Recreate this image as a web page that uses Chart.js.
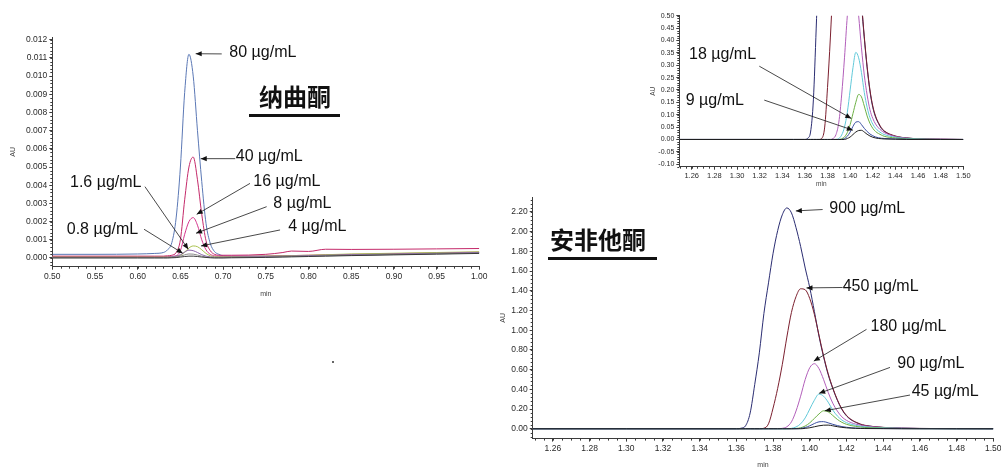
<!DOCTYPE html>
<html>
<head>
<meta charset="utf-8">
<script src="https://cdn.jsdelivr.net/npm/chart.js@4.4.1/dist/chart.umd.min.js"></script>
<style>
  html, body { margin: 0; padding: 0; background: #fff; }
  body { width: 1001px; height: 467px; position: relative; overflow: hidden; }
  canvas { position: absolute; }
  .title { position: absolute; font-family: "Noto Sans CJK SC", sans-serif; font-weight: 700; font-size: 24px; line-height: 24px; color: #111; text-align: center; }
  .rule { position: absolute; height: 3px; background: #111; }
  .dot { position: absolute; width: 2px; height: 2px; border-radius: 1px; background: #333; }
</style>
</head>
<body>
<canvas id="nalChart" width="490" height="300" style="left:0;top:0"></canvas>
<canvas id="amfZoomChart" width="340" height="195" style="left:640px;top:0"></canvas>
<canvas id="amfChart" width="515" height="280" style="left:490px;top:190px"></canvas>

<div class="title" style="left:245px;top:84px;width:100px">纳曲酮</div>
<div class="rule" style="left:249px;top:114px;width:91px"></div>
<div class="title" style="left:546px;top:227px;width:104px">安非他酮</div>
<div class="rule" style="left:548px;top:257px;width:109px"></div>
<div class="dot" style="left:332px;top:361px"></div>

<script>
// naltrexone run: retention time (min) and absorbance in mAU
const nalTime = [0.50, 0.55, 0.60, 0.62, 0.63, 0.635, 0.64, 0.645, 0.65, 0.655, 0.66, 0.665, 0.67, 0.675, 0.68,
    0.685, 0.69, 0.695, 0.70, 0.71, 0.75, 0.77, 0.78, 0.80, 0.82, 0.85, 0.90, 0.95, 1.00];
const nal80 = [0.20, 0.20, 0.22, 0.25, 0.30, 0.45, 0.85, 2.2, 5.0, 9.1, 11.2, 10.0, 7.0, 4.2, 1.9,
    0.8, 0.35, 0.2, 0.12, 0.1, 0.1, 0.1, 0.1, 0.12, 0.14, 0.16, 0.2, 0.25, 0.3];
const nal40 = [0.1, 0.1, 0.1, 0.1, 0.1, 0.12, 0.15, 0.3, 1.0, 3.2, 5.0, 5.55, 4.3, 2.4, 0.95,
    0.4, 0.2, 0.15, 0.15, 0.15, 0.2, 0.3, 0.38, 0.36, 0.48, 0.47, 0.48, 0.5, 0.52];
const nal16 = [0.08, 0.08, 0.08, 0.08, 0.08, 0.08, 0.09, 0.12, 0.4, 1.3, 2.0, 2.22, 1.8, 1.0, 0.45,
    0.2, 0.12, 0.1, 0.1, 0.1, 0.1, 0.12, 0.13, 0.15, 0.17, 0.2, 0.24, 0.28, 0.32];
const nal8 = [0.05, 0.05, 0.05, 0.05, 0.05, 0.05, 0.06, 0.08, 0.14, 0.32, 0.55, 0.66, 0.62, 0.45, 0.25,
    0.12, 0.07, 0.06, 0.06, 0.07, 0.1, 0.12, 0.13, 0.15, 0.18, 0.22, 0.26, 0.3, 0.34];
const nal4 = [0.03, 0.03, 0.03, 0.03, 0.03, 0.04, 0.06, 0.1, 0.18, 0.32, 0.43, 0.4, 0.3, 0.18, 0.1,
    0.06, 0.04, 0.04, 0.04, 0.05, 0.08, 0.1, 0.11, 0.13, 0.15, 0.18, 0.22, 0.26, 0.3];
const nal1p6 = [0.02, 0.02, 0.02, 0.02, 0.02, 0.02, 0.03, 0.05, 0.1, 0.17, 0.22, 0.21, 0.16, 0.1, 0.05,
    0.03, 0.02, 0.02, 0.02, 0.03, 0.05, 0.07, 0.08, 0.1, 0.12, 0.15, 0.19, 0.23, 0.27];
const nal0p8 = [0.0, 0.0, 0.0, 0.0, 0.0, 0.0, 0.01, 0.02, 0.05, 0.08, 0.1, 0.1, 0.08, 0.05, 0.03,
    0.01, 0.0, 0.0, 0.0, 0.01, 0.03, 0.05, 0.06, 0.08, 0.1, 0.13, 0.17, 0.21, 0.25];

// bupropion run: retention time (min) and absorbance in AU
const amfTime = [1.249, 1.30, 1.35, 1.36, 1.3625, 1.365, 1.3675, 1.37, 1.3725, 1.375, 1.3775, 1.38, 1.3825,
    1.385, 1.3875, 1.39, 1.3925, 1.395, 1.3975, 1.40, 1.4025, 1.405, 1.4075, 1.41, 1.4125, 1.415, 1.4175,
    1.42, 1.4225, 1.425, 1.4275, 1.43, 1.44, 1.45, 1.46, 1.48, 1.50];
const amf900 = [0, 0, 0, 0, 0.005, 0.03, 0.16, 0.45, 0.77, 1.17, 1.48, 1.78, 2.01,
    2.17, 2.24, 2.19, 2.04, 1.85, 1.63, 1.43, 1.19, 0.94, 0.73, 0.55, 0.41, 0.29, 0.195,
    0.13, 0.09, 0.065, 0.045, 0.033, 0.013, 0.006, 0.003, 0.001, 0];
const amf450 = [0, 0, 0, 0, 0, 0, 0, 0, 0, 0.005, 0.05, 0.21, 0.41,
    0.65, 0.93, 1.18, 1.34, 1.42, 1.41, 1.32, 1.16, 0.95, 0.74, 0.56, 0.415, 0.295, 0.2,
    0.135, 0.094, 0.068, 0.048, 0.035, 0.014, 0.006, 0.003, 0.001, 0];
const amf180 = [0, 0, 0, 0, 0, 0, 0, 0, 0, 0, 0, 0, 0,
    0.004, 0.02, 0.07, 0.18, 0.33, 0.5, 0.62, 0.66, 0.61, 0.5, 0.37, 0.26, 0.18, 0.12,
    0.085, 0.062, 0.047, 0.036, 0.028, 0.012, 0.005, 0.002, 0.001, 0];
const amf90 = [0, 0, 0, 0, 0, 0, 0, 0, 0, 0, 0, 0, 0,
    0, 0, 0.004, 0.018, 0.05, 0.11, 0.2, 0.29, 0.352, 0.33, 0.27, 0.19, 0.13, 0.088,
    0.062, 0.045, 0.034, 0.026, 0.02, 0.009, 0.004, 0.002, 0, 0];
const amf45 = [0, 0, 0, 0, 0, 0, 0, 0, 0, 0, 0, 0, 0,
    0, 0, 0, 0.003, 0.01, 0.028, 0.06, 0.105, 0.15, 0.182, 0.172, 0.135, 0.095, 0.065,
    0.045, 0.032, 0.024, 0.018, 0.013, 0.006, 0.002, 0.001, 0, 0];
const amf18 = [0, 0, 0, 0, 0, 0, 0, 0, 0, 0, 0, 0, 0,
    0, 0, 0, 0, 0.004, 0.013, 0.03, 0.053, 0.07, 0.072, 0.06, 0.045, 0.032, 0.022,
    0.015, 0.01, 0.007, 0.005, 0.004, 0.002, 0.001, 0, 0, 0];
const amf9 = [0, 0, 0, 0, 0, 0, 0, 0, 0, 0, 0, 0, 0,
    0, 0, 0, 0, 0, 0.004, 0.01, 0.02, 0.03, 0.036, 0.037, 0.03, 0.021, 0.014,
    0.009, 0.006, 0.004, 0.003, 0.002, 0.001, 0, 0, 0, 0];

// tick labels
const nalXTicks = ['0.50', '0.55', '0.60', '0.65', '0.70', '0.75', '0.80', '0.85', '0.90', '0.95', '1.00'];
const nalYTicks = ['0.000', '0.001', '0.002', '0.003', '0.004', '0.005', '0.006', '0.007', '0.008', '0.009',
    '0.010', '0.011', '0.012'];
const amfXTicks = ['1.26', '1.28', '1.30', '1.32', '1.34', '1.36', '1.38', '1.40', '1.42', '1.44', '1.46', '1.48', '1.50'];
const amfYTicks = ['0.00', '0.20', '0.40', '0.60', '0.80', '1.00', '1.20', '1.40', '1.60', '1.80', '2.00', '2.20'];
const amfZoomYTicks = ['-0.10', '-0.05', '0.00', '0.05', '0.10', '0.15', '0.20', '0.25', '0.30', '0.35', '0.40',
    '0.45', '0.50'];

const FONT = '"Liberation Sans", Arial, sans-serif';
const AXIS = '#3c3c3c';

// arrows with their concentration labels
const notes = {
    id: 'notes',
    afterDatasetsDraw(chart, args, opts) {
        const { ctx, scales: { x, y } } = chart;
        ctx.save();
        ctx.strokeStyle = '#1a1a1a';
        ctx.fillStyle = '#111';
        ctx.lineWidth = 0.8;
        ctx.font = `16px ${FONT}`;
        ctx.textBaseline = 'middle';
        (opts.items || []).forEach((n) => {
            const x0 = x.getPixelForValue(n.from[0]);
            const y0 = y.getPixelForValue(n.from[1]);
            const x1 = x.getPixelForValue(n.to[0]);
            const y1 = y.getPixelForValue(n.to[1]);
            ctx.beginPath();
            ctx.moveTo(x0, y0);
            ctx.lineTo(x1, y1);
            ctx.stroke();
            const a = Math.atan2(y1 - y0, x1 - x0);
            const c = Math.cos(a), s = Math.sin(a);
            ctx.beginPath();
            ctx.moveTo(x1, y1);
            ctx.lineTo(x1 - 6 * c + 2.6 * s, y1 - 6 * s - 2.6 * c);
            ctx.lineTo(x1 - 6 * c - 2.6 * s, y1 - 6 * s + 2.6 * c);
            ctx.closePath();
            ctx.fill();
            ctx.fillText(n.text, x.getPixelForValue(n.at[0]), y.getPixelForValue(n.at[1]));
        });
        ctx.restore();
    },
};

const minorTicks = {
    id: 'minorTicks',
    afterDraw(chart, args, opts) {
        const { ctx, chartArea: area, scales: { x, y } } = chart;
        ctx.save();
        ctx.strokeStyle = AXIS;
        ctx.lineWidth = 1;
        ctx.beginPath();
        for (let v = Math.ceil(x.min / opts.x - 1e-6) * opts.x; v <= x.max + 1e-9; v += opts.x) {
            const px = Math.round(x.getPixelForValue(v)) + 0.5;
            ctx.moveTo(px, area.bottom);
            ctx.lineTo(px, area.bottom + 2);
        }
        for (let v = Math.ceil(y.min / opts.y - 1e-6) * opts.y; v <= y.max + 1e-9; v += opts.y) {
            const py = Math.round(y.getPixelForValue(v)) + 0.5;
            ctx.moveTo(area.left, py);
            ctx.lineTo(area.left - 2, py);
        }
        ctx.stroke();
        ctx.restore();
    },
};

function line(xs, ys, color, factor = 1) {
    return {
        data: xs.map((t, i) => ({ x: t, y: ys[i] * factor })),
        borderColor: color,
        borderWidth: 1,
        pointRadius: 0,
        fill: false,
        cubicInterpolationMode: 'monotone',
    };
}

function drawPanel(id, cfg) {
    const axis = (labels, font, size, title, titlePad, fit) => ({
        type: 'linear',
        afterBuildTicks(scale) {
            scale.ticks = labels.map((l) => ({ value: parseFloat(l) }));
        },
        afterFit(scale) {
            fit(scale);
        },
        grid: { drawOnChartArea: false, drawTicks: true, tickLength: 3, color: AXIS },
        border: { display: true, color: AXIS, width: 1 },
        ticks: {
            autoSkip: false,
            maxRotation: 0,
            padding: 2,
            color: '#2a2a2a',
            font: { family: FONT, size: font },
            callback: (value, index) => labels[index],
        },
        title: {
            display: true,
            text: title,
            color: '#444',
            padding: titlePad,
            font: { family: FONT, size: size },
        },
    });

    const x = axis(cfg.xTicks, cfg.xFont, cfg.titleFont, 'min', { top: 0, bottom: cfg.minPad },
        (s) => { s.height = cfg.xHeight; });
    x.min = cfg.xMin;
    x.max = cfg.xMax;
    const y = axis(cfg.yTicks, cfg.yFont, cfg.titleFont, 'AU', { top: cfg.auPad, bottom: 0 },
        (s) => { s.width = cfg.yWidth; });
    y.min = cfg.yMin;
    y.max = cfg.yMax;

    new Chart(document.getElementById(id), {
        type: 'line',
        data: { datasets: cfg.datasets },
        options: {
            responsive: false,
            animation: false,
            events: [],
            layout: { padding: { top: cfg.padTop, right: cfg.padRight, left: 0, bottom: 0 } },
            scales: { x, y },
            plugins: {
                legend: { display: false },
                tooltip: { enabled: false },
                notes: { items: cfg.notes },
                minorTicks: cfg.minor,
            },
        },
        plugins: [notes, minorTicks],
    });
}

const amfSeries = () => [
    line(amfTime, amf9, '#1e1e1e'),
    line(amfTime, amf18, '#3a4fa0'),
    line(amfTime, amf45, '#6cb044'),
    line(amfTime, amf90, '#62c9d9'),
    line(amfTime, amf180, '#b25fba'),
    line(amfTime, amf450, '#7b1f2e'),
    line(amfTime, amf900, '#2b2d72'),
];

drawPanel('nalChart', {
    xMin: 0.5, xMax: 1.0, yMin: -0.00048, yMax: 0.01215,
    xTicks: nalXTicks, yTicks: nalYTicks,
    xFont: 8.5, yFont: 8.5, titleFont: 7,
    yWidth: 52.3, xHeight: 33.3, padTop: 37, padRight: 10.7,
    auPad: 8.8, minPad: 1.8,
    minor: { x: 0.01, y: 0.0002 },
    datasets: [
        line(nalTime, nal0p8, '#3a3a3a', 0.001),
        line(nalTime, nal1p6, '#8a8a8a', 0.001),
        line(nalTime, nal4, '#8a64a8', 0.001),
        line(nalTime, nal8, '#a9c24e', 0.001),
        line(nalTime, nal16, '#d4358c', 0.001),
        line(nalTime, nal40, '#c42a6a', 0.001),
        line(nalTime, nal80, '#5b78b5', 0.001),
    ],
    notes: [
        { text: '80 µg/mL', at: [0.7073, 0.01130], from: [0.6984, 0.01122], to: [0.6679, 0.01123] },
        { text: '40 µg/mL', at: [0.7148, 0.00560], from: [0.7142, 0.00546], to: [0.6738, 0.00546] },
        { text: '16 µg/mL', at: [0.7354, 0.00418], from: [0.7315, 0.00410], to: [0.6691, 0.00240] },
        { text: '8 µg/mL', at: [0.7588, 0.00298], from: [0.7510, 0.00282], to: [0.6683, 0.00136] },
        { text: '4 µg/mL', at: [0.7763, 0.00172], from: [0.7667, 0.00154], to: [0.6741, 0.00066] },
        { text: '1.6 µg/mL', at: [0.5207, 0.00414], from: [0.6085, 0.00392], to: [0.6592, 0.00048] },
        { text: '0.8 µg/mL', at: [0.5169, 0.00158], from: [0.6074, 0.00158], to: [0.6527, 0.00026] },
    ],
});

drawPanel('amfZoomChart', {
    xMin: 1.249, xMax: 1.5, yMin: -0.11, yMax: 0.5,
    xTicks: amfXTicks, yTicks: amfZoomYTicks,
    xFont: 7.5, yFont: 7, titleFont: 6.5,
    yWidth: 39.3, xHeight: 28.3, padTop: 15.7, padRight: 16.7,
    auPad: 9.1, minPad: 7,
    minor: { x: 0.005, y: 0.01 },
    datasets: amfSeries(),
    notes: [
        { text: '18 µg/mL', at: [1.2576, 0.343], from: [1.3197, 0.296], to: [1.4010, 0.085] },
        { text: '9 µg/mL', at: [1.2547, 0.159], from: [1.3241, 0.159], to: [1.4024, 0.0376] },
    ],
});

drawPanel('amfChart', {
    xMin: 1.249, xMax: 1.5, yMin: -0.1, yMax: 2.35,
    xTicks: amfXTicks, yTicks: amfYTicks,
    xFont: 8.5, yFont: 8.5, titleFont: 7,
    yWidth: 42.7, xHeight: 31.4, padTop: 6.9, padRight: 11.7,
    auPad: 8.8, minPad: 0.8,
    minor: { x: 0.005, y: 0.04 },
    datasets: amfSeries(),
    notes: [
        { text: '900 µg/mL', at: [1.4106, 2.234], from: [1.4070, 2.224], to: [1.3924, 2.210] },
        { text: '450 µg/mL', at: [1.4179, 1.440], from: [1.4179, 1.433], to: [1.3982, 1.429] },
        { text: '180 µg/mL', at: [1.4331, 1.034], from: [1.4309, 1.008], to: [1.4022, 0.686] },
        { text: '90 µg/mL', at: [1.4477, 0.663], from: [1.4437, 0.622], to: [1.4051, 0.359] },
        { text: '45 µg/mL', at: [1.4555, 0.375], from: [1.4546, 0.342], to: [1.4082, 0.182] },
    ],
});
</script>
</body>
</html>
